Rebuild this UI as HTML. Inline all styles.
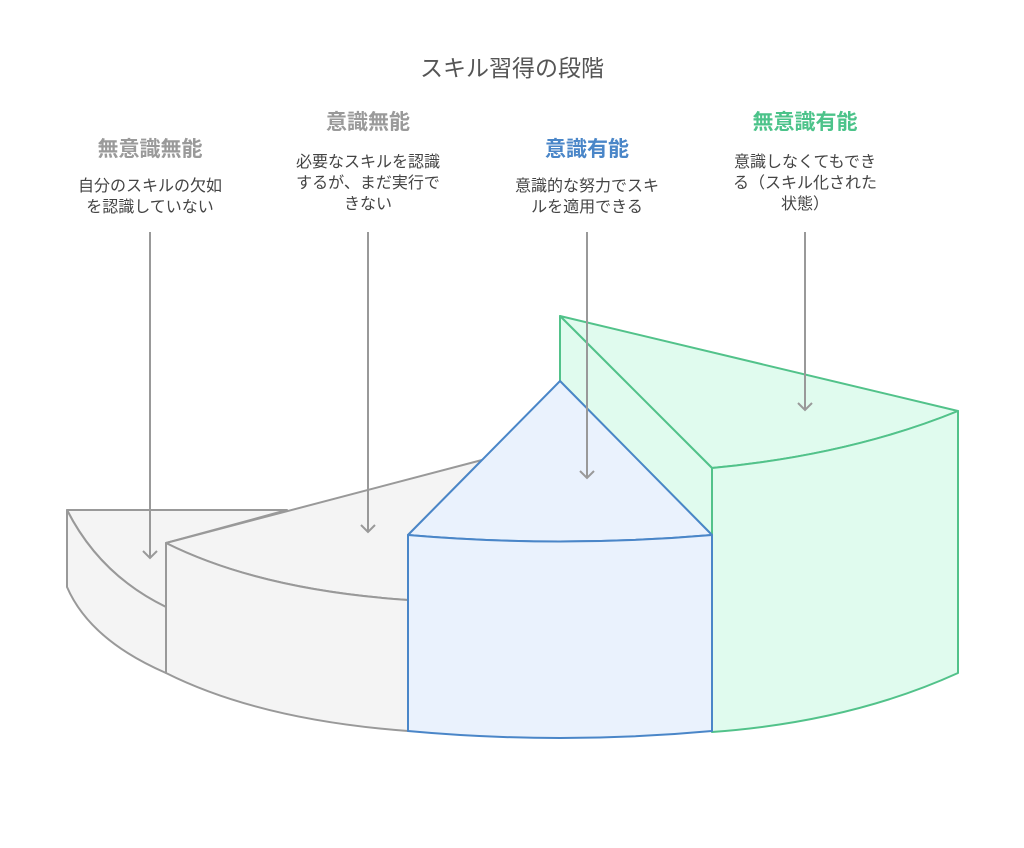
<!DOCTYPE html>
<html><head><meta charset="utf-8"><style>
html,body{margin:0;padding:0;background:#fff;}
body{width:1024px;height:848px;position:relative;overflow:hidden;font-family:"Liberation Sans","Noto Sans CJK JP",sans-serif;}
.t{position:absolute;text-align:center;white-space:nowrap;}
.h{font-weight:bold;font-size:21px;line-height:26px;}
.d{font-size:16px;color:#444;line-height:21px;}
</style></head><body>
<svg width="1024" height="848" style="position:absolute;left:0;top:0">
<g stroke-width="2" stroke-linejoin="round" fill="none">
<path d="M67,510 L287,510 L166,543 L166,607 Q100,575 67,510 Z" fill="#f4f4f4" stroke="#999"/>
<path d="M67,510 Q100,575 166,607 L166,673 Q90,640 67,587 Z" fill="#f4f4f4" stroke="#999"/>
<path d="M166,543 L482,460 L408,535 L408,600 Q260,590 166,543 Z" fill="#f4f4f4" stroke="#999"/>
<path d="M166,543 Q260,590 408,600 L408,731 Q260,720 166,673 Z" fill="#f4f4f4" stroke="#999"/>
<path d="M560,316 L958,411 Q850,455 712,468 Z" fill="#e0fbee" stroke="#52c28a"/>
<path d="M560,316 L712,468 L712,535 L560,381 Z" fill="#e0fbee" stroke="#52c28a"/>
<path d="M712,468 Q850,455 958,411 L958,673 Q850,722 712,732 Z" fill="#e0fbee" stroke="#52c28a"/>
<path d="M560,381 L712,535 Q560,548 408,535 Z" fill="#eaf2fd" stroke="#4a86c8"/>
<path d="M408,535 Q560,548 712,535 L712,731 Q560,745 408,731 Z" fill="#eaf2fd" stroke="#4a86c8"/>
</g>
<g stroke="#999" stroke-width="2" fill="none">
<path d="M150,232 V558 M143,551 L150,558 L157,551"/>
<path d="M368,232 V532 M361,525 L368,532 L375,525"/>
<path d="M587,232 V478 M580,471 L587,478 L594,471"/>
<path d="M805,232 V410 M798,403 L805,410 L812,403"/>
</g>
</svg>
<div class="t" style="left:312px;width:400px;top:54px;font-size:23px;line-height:28px;color:#555;">スキル習得の段階</div>
<div class="t h" style="left:50px;width:200px;top:137px;color:#9a9a9a;">無意識無能</div>
<div class="t d" style="left:40px;width:220px;top:176px;">自分のスキルの欠如<br>を認識していない</div>
<div class="t h" style="left:268px;width:200px;top:110px;color:#9a9a9a;">意識無能</div>
<div class="t d" style="left:258px;width:220px;top:152px;">必要なスキルを認識<br>するが、まだ実行で<br>きない</div>
<div class="t h" style="left:487px;width:200px;top:137px;color:#4a86c8;">意識有能</div>
<div class="t d" style="left:477px;width:220px;top:176px;">意識的な努力でスキ<br>ルを適用できる</div>
<div class="t h" style="left:705px;width:200px;top:110px;color:#4cc38a;">無意識有能</div>
<div class="t d" style="left:695px;width:220px;top:152px;">意識しなくてもでき<br>る（スキル化された<br>状態）</div>
</body></html>
